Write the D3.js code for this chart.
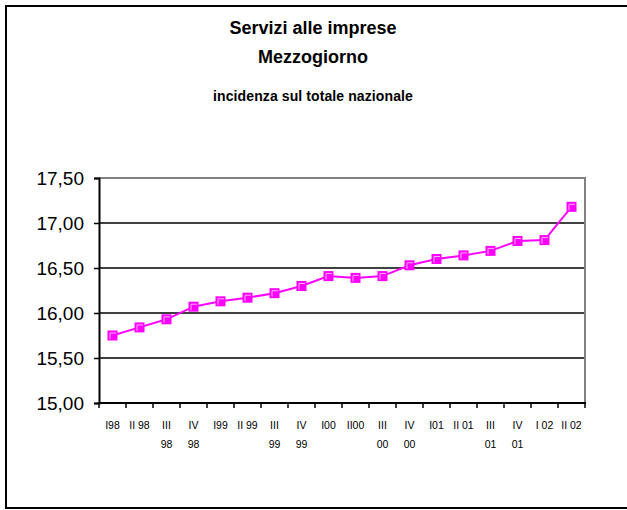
<!DOCTYPE html>
<html>
<head>
<meta charset="utf-8">
<script src="https://cdn.jsdelivr.net/npm/d3@7"></script>
<style>
  body { margin: 0; background: #fff; }
  svg { display: block; font-family: "Liberation Sans", Arial, sans-serif; }
</style>
</head>
<body>
<div id="chart"></div>
<script>
// quarters (two-line labels split on '|')
var quarters = ['I98', 'II 98', 'III|98', 'IV|98', 'I99', 'II 99', 'III|99', 'IV|99',
    'I00', 'II00', 'III|00', 'IV|00', 'I01', 'II 01', 'III|01', 'IV|01', 'I 02', 'II 02'];
var incidenza = [15.75, 15.84, 15.93, 16.07, 16.13, 16.17, 16.22, 16.30, 16.41,
    16.39, 16.41, 16.53, 16.60, 16.64, 16.69, 16.80, 16.81, 17.18];
var yTicks = [15.0, 15.5, 16.0, 16.5, 17.0, 17.5];
var titleLines = ['Servizi alle imprese', 'Mezzogiorno'];
var subtitle = 'incidenza sul totale nazionale';

var W = 627, H = 510;
var plot = { left: 99, right: 585, top: 178, bottom: 403 };

var svg = d3.select('#chart').append('svg').attr('width', W).attr('height', H);

// outer frame (right side runs off the picture)
svg.append('rect')
    .attr('x', 6).attr('y', 6)
    .attr('width', 640).attr('height', 502)
    .attr('fill', 'none')
    .attr('stroke', '#000')
    .attr('stroke-width', 2);

// titles
svg.selectAll('text.title')
    .data(titleLines)
    .enter()
    .append('text')
    .attr('class', 'title')
    .attr('x', 313)
    .attr('y', function (d, i) { return 34 + i * 29; })
    .attr('text-anchor', 'middle')
    .attr('font-weight', 'bold')
    .attr('font-size', 18)
    .text(function (d) { return d; });

svg.append('text')
    .attr('x', 313)
    .attr('y', 101)
    .attr('text-anchor', 'middle')
    .attr('font-weight', 'bold')
    .attr('font-size', 14)
    .attr('letter-spacing', 0.1)
    .text(subtitle);

var x = d3.scaleBand().domain(d3.range(quarters.length)).range([plot.left, plot.right]);
var y = d3.scaleLinear().domain([15, 17.5]).range([plot.bottom, plot.top]);

// gridlines
svg.append('g')
    .selectAll('line')
    .data(yTicks.slice(1, -1))
    .enter()
    .append('line')
    .attr('x1', plot.left).attr('x2', plot.right)
    .attr('y1', function (d) { return y(d); })
    .attr('y2', function (d) { return y(d); })
    .attr('stroke', '#000')
    .attr('stroke-width', 1.5);

// top / right plot border in grey
svg.append('path')
    .attr('d', 'M' + plot.left + ',' + plot.top + 'H' + plot.right + 'V' + plot.bottom)
    .attr('fill', 'none')
    .attr('stroke', '#808080')
    .attr('stroke-width', 2);

// y axis
var yAxis = d3.axisLeft(y)
    .tickValues(yTicks)
    .tickSize(5)
    .tickPadding(10)
    .tickFormat(function (d) { return d3.format('.2f')(d).replace('.', ','); });

var gy = svg.append('g')
    .attr('transform', 'translate(' + plot.left + ',0)')
    .call(yAxis);
gy.select('.domain').attr('stroke', '#000').attr('stroke-width', 2);
gy.selectAll('.tick line').attr('stroke', '#000').attr('stroke-width', 1.5);
gy.selectAll('.tick text')
    .attr('font-family', '"Liberation Sans", Arial, sans-serif')
    .attr('font-size', 19)
    .attr('fill', '#000');

// x axis: ticks on band edges
var edges = d3.range(quarters.length + 1).map(function (i) {
    return plot.left + i * x.step();
});
svg.append('line')
    .attr('x1', plot.left - 1).attr('x2', plot.right + 1)
    .attr('y1', plot.bottom).attr('y2', plot.bottom)
    .attr('stroke', '#000')
    .attr('stroke-width', 2);
svg.append('g')
    .selectAll('line')
    .data(edges)
    .enter()
    .append('line')
    .attr('x1', function (d) { return d; })
    .attr('x2', function (d) { return d; })
    .attr('y1', plot.bottom)
    .attr('y2', plot.bottom + 5)
    .attr('stroke', '#000')
    .attr('stroke-width', 1.5);

var xl = svg.append('g')
    .selectAll('text')
    .data(quarters)
    .enter()
    .append('text')
    .attr('text-anchor', 'middle')
    .attr('font-size', 10.5)
    .attr('fill', '#000');
xl.each(function (d, i) {
    var parts = d.split('|');
    var t = d3.select(this);
    parts.forEach(function (p, k) {
        t.append('tspan')
            .attr('x', x(i) + x.bandwidth() / 2)
            .attr('y', 429 + k * 18.5)
            .text(p);
    });
});

// series line
var line = d3.line()
    .x(function (d, i) { return x(i) + x.bandwidth() / 2; })
    .y(function (d) { return y(d); });

svg.append('path')
    .datum(incidenza)
    .attr('d', line)
    .attr('fill', 'none')
    .attr('stroke', '#ff00ff')
    .attr('stroke-width', 2);

// square markers
var mk = svg.append('g')
    .selectAll('g')
    .data(incidenza)
    .enter()
    .append('g')
    .attr('transform', function (d, i) {
        return 'translate(' + (x(i) + x.bandwidth() / 2) + ',' + y(d) + ')';
    });
mk.append('rect')
    .attr('x', -5).attr('y', -5)
    .attr('width', 10).attr('height', 10)
    .attr('fill', '#ff00ff');
mk.append('path')
    .attr('d', 'M-2.5,3.5V-2.5H3.5')
    .attr('fill', 'none')
    .attr('stroke', '#ffb0ff')
    .attr('stroke-width', 1);
</script>
</body>
</html>
